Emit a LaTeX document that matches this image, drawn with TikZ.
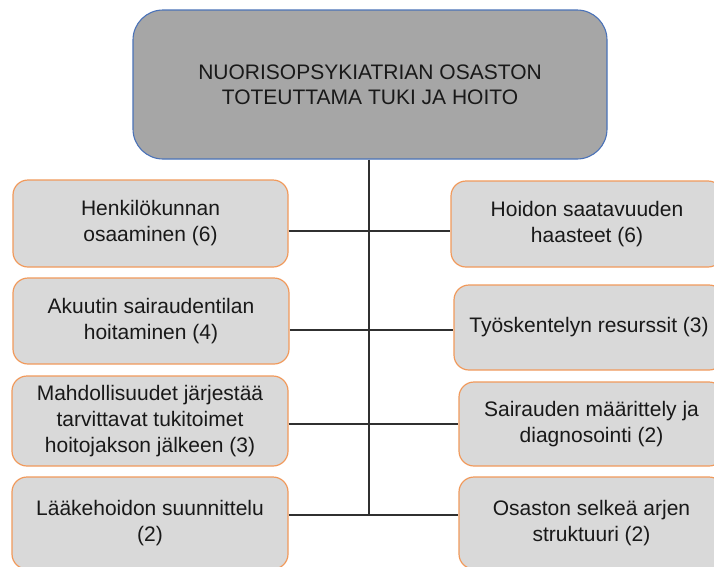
\documentclass[tikz,border=0pt]{standalone}
\usepackage{fontspec}
\setmainfont{Liberation Sans}
\definecolor{topfill}{HTML}{A6A6A6}
\definecolor{topedge}{HTML}{4A72B8}
\definecolor{boxfill}{HTML}{D9D9D9}
\definecolor{boxedge}{HTML}{F19A5C}
\definecolor{linec}{HTML}{303030}
\begin{document}
\begin{tikzpicture}[x=1pt,y=-1pt,
  topbox/.style={draw=topedge, fill=topfill, line width=1.1pt, rounded corners=30pt,
    minimum width=474pt, minimum height=149pt, align=center, inner sep=0pt,
    font=\fontsize{21}{25}\selectfont, text=black!90},
  itembox/.style={draw=boxedge, fill=boxfill, line width=1.2pt, rounded corners=15pt,
    align=center, inner sep=0pt, font=\fontsize{21}{26}\selectfont, text=black!90},
  conn/.style={draw=linec, line width=1.4pt}]
\useasboundingbox (0,0) rectangle (714,566);
\clip (0,0) rectangle (714,566);
\fill[white] (0,0) rectangle (714,566);
\node[topbox] (top) at (370,84.5) {NUORISOPSYKIATRIAN OSASTON\\TOTEUTTAMA TUKI JA HOITO};
\node[itembox, minimum width=275pt, minimum height=87pt] (L1) at (150.5,223.5) {Henkilökunnan\\osaaminen (6)};
\node[itembox, minimum width=276pt, minimum height=86pt] (L2) at (151,321) {Akuutin sairaudentilan\\hoitaminen (4)};
\node[itembox, minimum width=276pt, minimum height=90pt] (L3) at (150,421) {Mahdollisuudet järjestää\\tarvittavat tukitoimet\\hoitojakson jälkeen (3)};
\node[itembox, minimum width=276pt, minimum height=92pt] (L4) at (150,523) {Lääkehoidon suunnittelu\\(2)};
\node[itembox, minimum width=272pt, minimum height=86pt] (R1) at (587,224) {Hoidon saatavuuden\\haasteet (6)};
\node[itembox, minimum width=270pt, minimum height=85pt] (R2) at (589,327.5) {Työskentelyn resurssit (3)};
\node[itembox, minimum width=265pt, minimum height=84pt] (R3) at (591.5,424) {Sairauden määrittely ja\\diagnosointi (2)};
\node[itembox, minimum width=265pt, minimum height=92pt] (R4) at (591.5,523) {Osaston selkeä arjen\\struktuuri (2)};
\coordinate (j1) at (369,231);
\coordinate (j2) at (369,330);
\coordinate (j3) at (369,424);
\coordinate (j4) at (369,515);
\draw[conn] (top.south -| j1) -- (j4);
\draw[conn] (L1.east |- j1) -- (j1) -- (R1.west |- j1);
\draw[conn] (L2.east |- j2) -- (j2) -- (R2.west |- j2);
\draw[conn] (L3.east |- j3) -- (j3) -- (R3.west |- j3);
\draw[conn] (L4.east |- j4) -- (j4) -- (R4.west |- j4);
\end{tikzpicture}
\end{document}
